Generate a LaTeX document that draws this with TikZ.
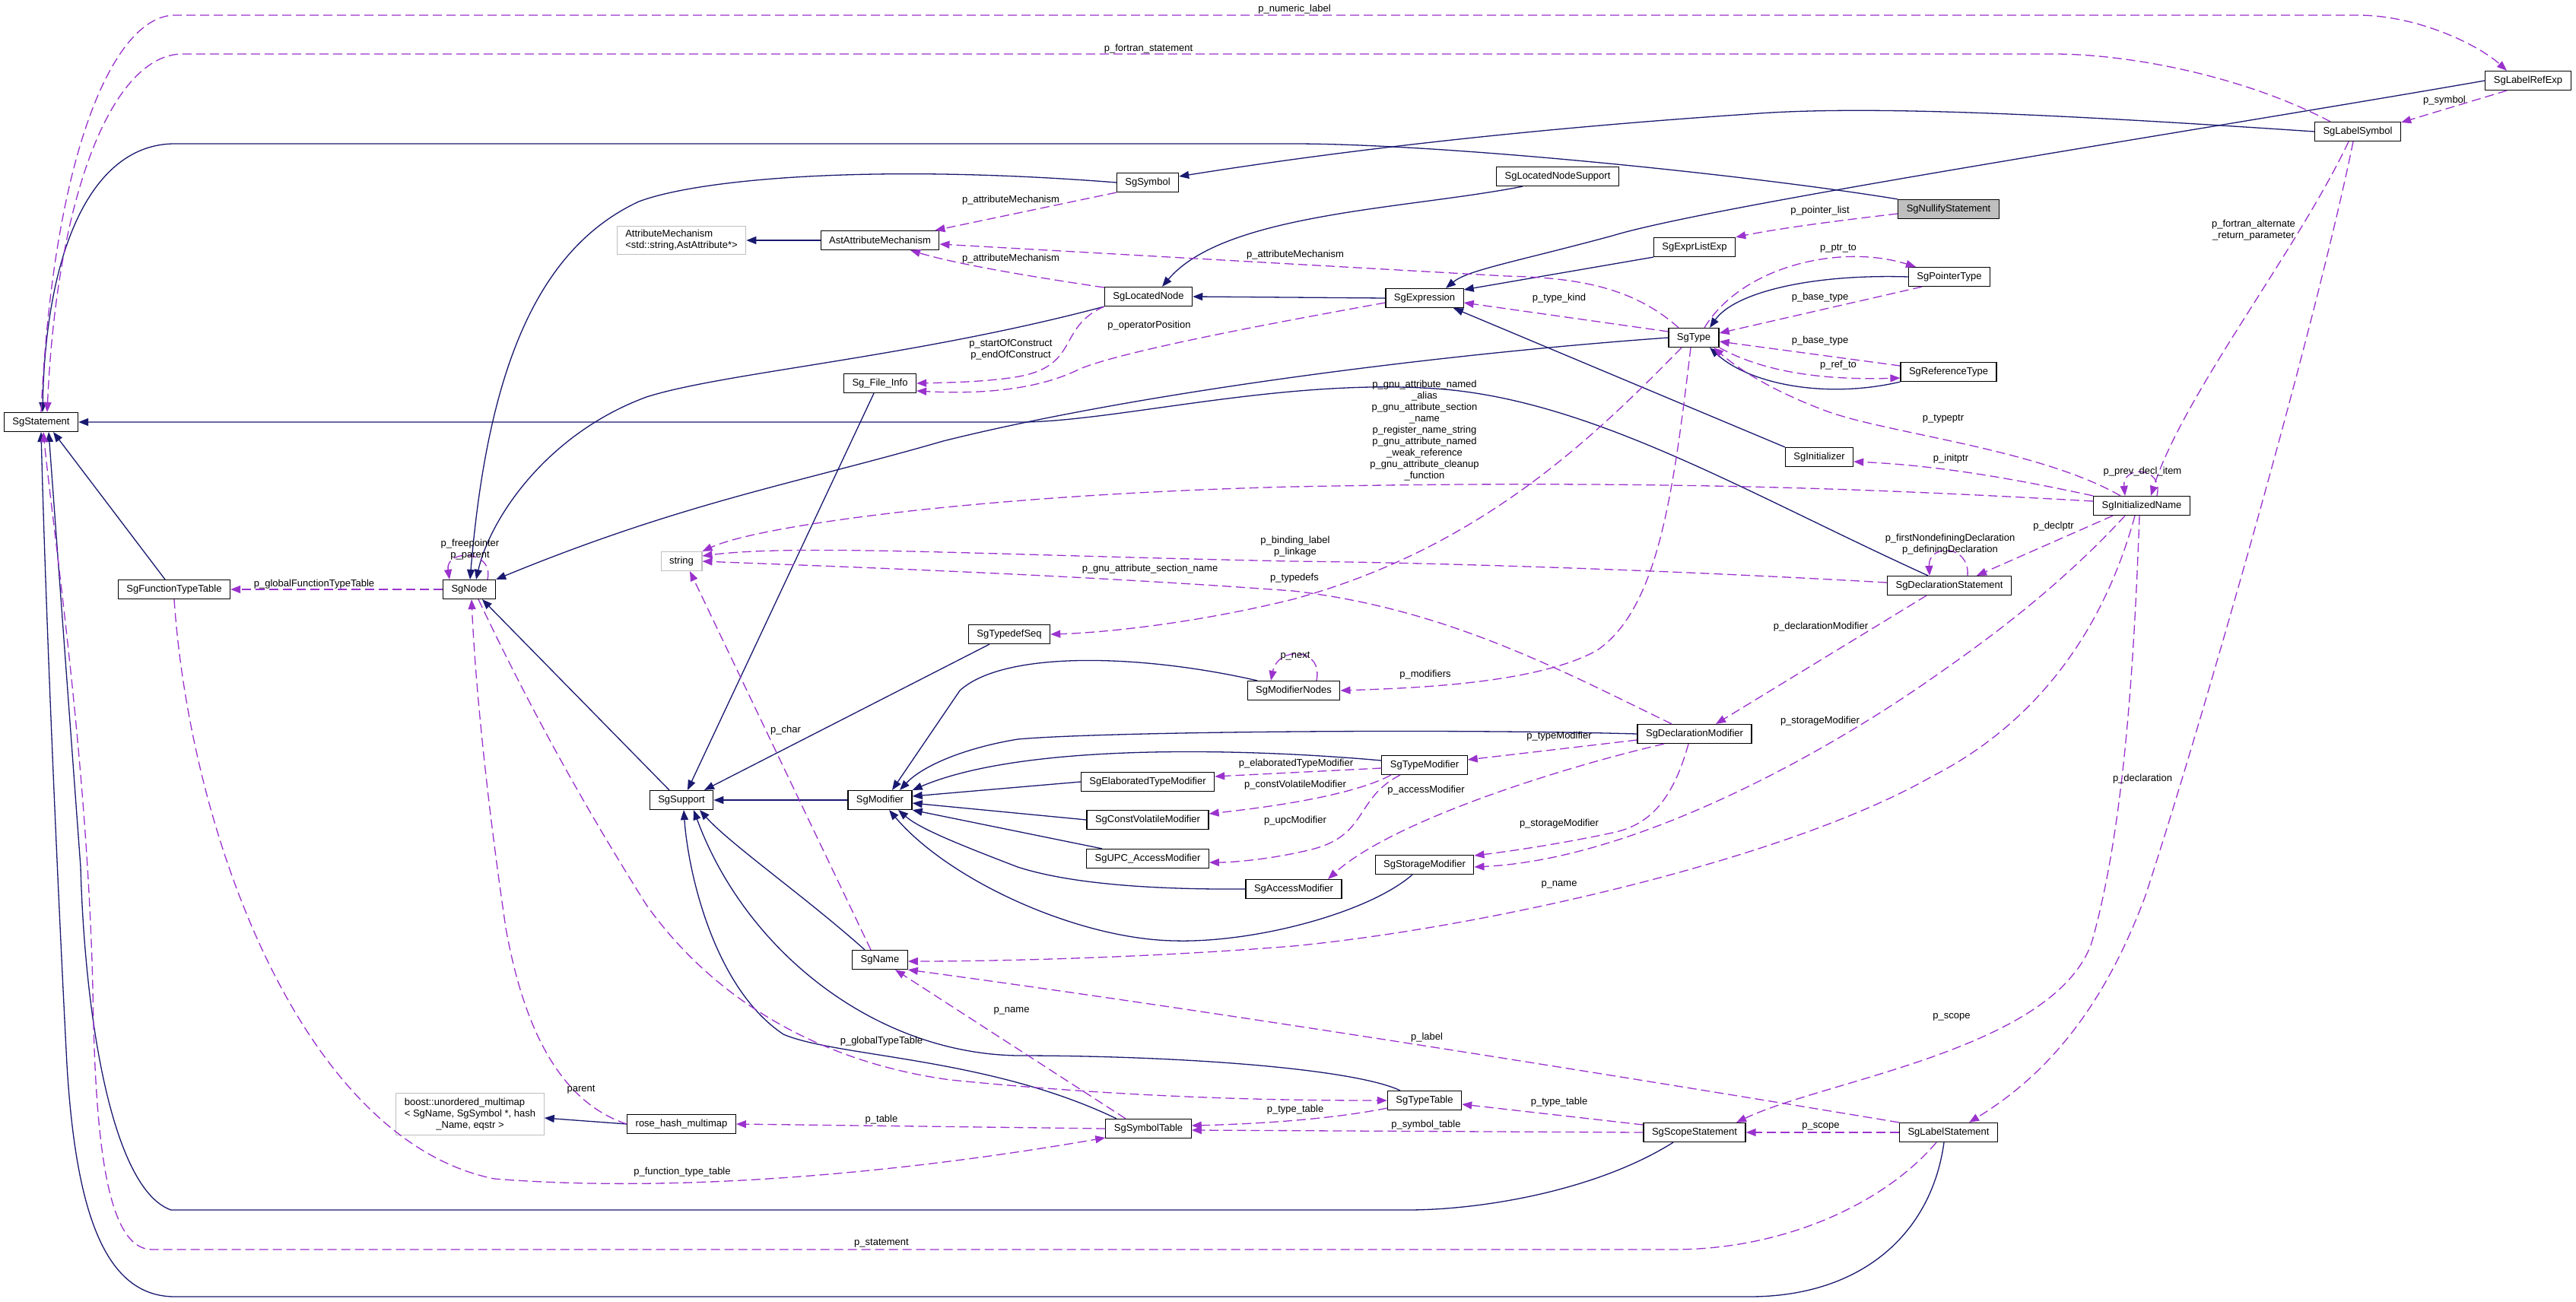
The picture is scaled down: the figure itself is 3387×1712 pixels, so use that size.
\documentclass[tikz,border=0pt]{standalone}
\usepackage{fontspec}
\setmainfont{Liberation Sans}
\usetikzlibrary{arrows.meta,calc}
\definecolor{navy}{RGB}{25,25,112}
\definecolor{orch}{RGB}{154,50,205}
\definecolor{extgray}{RGB}{191,191,191}
\begin{document}
\begin{tikzpicture}[x=0.5pt,y=-0.5pt,
  every node/.style={font=\fontsize{6.5}{7.5}\selectfont},
  cls/.style={draw=black,line width=0.6pt,fill=white,minimum height=12.5pt,inner xsep=5.5pt,inner ysep=1pt},
  ext/.style={cls,draw=extgray,inner ysep=2.5pt},
  inh/.style={draw=navy,line width=0.65pt,-{Triangle[length=6.5pt,width=5pt]}},
  use/.style={draw=orch,line width=0.65pt,dash pattern=on 6pt off 3pt,-{Triangle[length=6.5pt,width=5pt]}},
  lbl/.style={align=center,inner sep=0pt}]
\fill[white] (0,0) rectangle (3387,1712);
\useasboundingbox (0,0) rectangle (3387,1712);
% nodes
\node[cls] (stmt) at (54,555) {SgStatement};
\node[cls] (ftt) at (229,775) {SgFunctionTypeTable};
\node[cls] (sgnode) at (617,775) {SgNode};
\node[ext,align=left] (attr) at (896,316) {AttributeMechanism\\<std::string,AstAttribute*>};
\node[ext] (str) at (896,738) {string};
\node[cls] (supp) at (896,1052) {SgSupport};
\node[ext] (boost) at (618,1465) {\begin{tabular}{@{}l@{}}boost::unordered\_multimap\\< SgName, SgSymbol *, hash\\\multicolumn{1}{@{}c@{}}{\_Name, eqstr >}\end{tabular}};
\node[cls] (rose) at (896,1478) {rose\_hash\_multimap};
\node[cls] (astattr) at (1157,316) {AstAttributeMechanism};
\node[cls] (finfo) at (1157,504) {Sg\_File\_Info};
\node[cls] (mod) at (1157,1052) {SgModifier};
\node[cls] (sgname) at (1157,1262) {SgName};
\node[cls] (sym) at (1509,240) {SgSymbol};
\node[cls] (lnode) at (1510,390) {SgLocatedNode};
\node[cls] (tdseq) at (1327,834) {SgTypedefSeq};
\node[cls] (elab) at (1509,1028) {SgElaboratedTypeModifier};
\node[cls] (cvm) at (1509,1078) {SgConstVolatileModifier};
\node[cls] (upcm) at (1509,1129) {SgUPC\_AccessModifier};
\node[cls] (symtab) at (1510,1484) {SgSymbolTable};
\node[cls] (modnodes) at (1701,908) {SgModifierNodes};
\node[cls] (accm) at (1701,1169) {SgAccessModifier};
\node[cls] (lns) at (2048,232) {SgLocatedNodeSupport};
\node[cls] (expr) at (1873,392) {SgExpression};
\node[cls] (tymod) at (1873,1006) {SgTypeModifier};
\node[cls] (stor) at (1873,1137) {SgStorageModifier};
\node[cls] (tytab) at (1873,1447) {SgTypeTable};
\node[cls] (ell) at (2228,325) {SgExprListExp};
\node[cls] (sgtype) at (2227,444) {SgType};
\node[cls] (declmod) at (2228,965) {SgDeclarationModifier};
\node[cls] (scope) at (2228,1489) {SgScopeStatement};
\node[cls] (init) at (2392,601) {SgInitializer};
\node[cls,fill=extgray] (nullify) at (2562,275) {SgNullifyStatement};
\node[cls] (ptr) at (2563,364) {SgPointerType};
\node[cls] (sgref) at (2562,489) {SgReferenceType};
\node[cls] (declst) at (2563,770) {SgDeclarationStatement};
\node[cls] (lstmt) at (2562,1489) {SgLabelStatement};
\node[cls] (iname) at (2816,665) {SgInitializedName};
\node[cls] (lsym) at (3100,173) {SgLabelSymbol};
\node[cls] (lref) at (3324,106) {SgLabelRefExp};
% inheritance edges
\draw[inh] (nullify.north west) .. controls (2300,230) and (1900,189) .. (1700,189) -- (230,189) .. controls (120,189) and (60,330) .. ([xshift=1pt]stmt.north);
\draw[inh] (sym.west) .. controls (1150,215) and (920,235) .. (840,265) .. controls (700,330) and (640,500) .. ([xshift=0.5pt]sgnode.north);
\draw[inh] (lnode.south west) .. controls (1200,470) and (950,490) .. (850,522) .. controls (720,570) and (645,680) .. ([xshift=4.5pt]sgnode.north);
\draw[inh] (sgtype.west) .. controls (1900,465) and (1500,515) .. (1240,580) .. controls (1050,635) and (900,660) .. (sgnode.north east);
\draw[inh] ([xshift=-23pt]lns.south) .. controls (1850,275) and (1610,280) .. ([xshift=9pt]lnode.north);
\draw[inh] (lsym.west) .. controls (2700,150) and (2450,138) .. (2300,150) .. controls (2000,170) and (1750,200) .. ([yshift=4pt]sym.east);
\draw[inh] (lref.west) .. controls (2900,170) and (2250,270) .. (2120,310) .. controls (1990,345) and (1930,355) .. ([xshift=14pt]expr.north);
\draw[inh] (expr.west) -- (lnode.east);
\draw[inh] (ell.south west) -- ([yshift=5.5pt]expr.east);
\draw[inh] (init.north west) -- ([xshift=19pt]expr.south);
\draw[inh] (ptr.west) .. controls (2380,360) and (2280,385) .. ([xshift=10.5pt]sgtype.north);
\draw[inh] (sgref.south west) .. controls (2400,525) and (2300,505) .. ([xshift=10.5pt]sgtype.south);
\draw[inh] ([xshift=-6pt]ftt.north) -- ([xshift=8pt]stmt.south);
\draw[inh] ([xshift=-8pt]supp.north) -- ([xshift=8.5pt]sgnode.south);
\draw[inh] ([xshift=-4pt]finfo.south) -- ([xshift=4pt]supp.north);
\draw[inh] ([xshift=-21pt]symtab.north) .. controls (1300,1390) and (1100,1390) .. (1030,1360) .. controls (940,1300) and (905,1150) .. ([xshift=1.5pt]supp.south);
\draw[inh] ([xshift=-16pt]tytab.north) .. controls (1780,1405) and (1550,1388) .. (1338,1388) .. controls (1150,1385) and (980,1250) .. ([xshift=8pt]supp.south);
\draw[inh] ([xshift=-10pt]sgname.north) .. controls (1060,1180) and (960,1110) .. ([xshift=12pt]supp.south);
\draw[inh] ([xshift=-13pt]tdseq.south) -- ([xshift=15pt]supp.north);
\draw[inh] (mod.west) -- (supp.east);
\draw[inh] ([xshift=-24pt]modnodes.north) .. controls (1500,860) and (1320,855) .. (1262,908) -- ([xshift=8pt]mod.north);
\draw[inh] (declmod.west) .. controls (1900,958) and (1450,962) .. (1338,972) .. controls (1260,985) and (1210,1010) .. ([xshift=13pt]mod.north);
\draw[inh] ([yshift=3pt]tymod.west) .. controls (1650,985) and (1350,975) .. (mod.north east);
\draw[inh] (elab.west) -- ([yshift=2.5pt]mod.east);
\draw[inh] (cvm.west) -- ([yshift=-2pt]mod.east);
\draw[inh] ([xshift=-30pt]upcm.north) -- (mod.south east);
\draw[inh] (accm.west) .. controls (1500,1170) and (1400,1160) .. (1338,1140) .. controls (1260,1110) and (1210,1090) .. ([xshift=12pt]mod.south);
\draw[inh] ([xshift=-8pt]stor.south) .. controls (1800,1200) and (1650,1240) .. (1544,1237) .. controls (1420,1235) and (1250,1160) .. ([xshift=6pt]mod.south);
\draw[inh] (rose.west) -- ([yshift=-2.5pt]boost.east);
\draw[inh] ([xshift=-14pt]declst.north) .. controls (2300,650) and (2100,530) .. (1900,512) .. controls (1700,495) and (1480,552) .. (1349,555) -- (stmt.east);
\draw[inh] ([xshift=-14pt]scope.south) .. controls (2100,1565) and (1950,1591) .. (1850,1591) -- (225,1591) .. controls (150,1565) and (112,1350) .. (106,1140) -- ([xshift=5pt]stmt.south);
\draw[inh] ([xshift=-3pt]lstmt.south) .. controls (2540,1620) and (2450,1705) .. (2300,1705) -- (230,1705) .. controls (140,1705) and (100,1600) .. (88,1400) .. controls (75,1150) and (60,800) .. (stmt.south);
\draw[inh] (astattr.west) -- (attr.east);
% usage edges
\draw[use] (stmt.north) .. controls (70,200) and (150,20) .. (230,20) -- (3100,20) .. controls (3180,20) and (3260,60) .. ([xshift=-14pt]lref.north);
\draw[use] ([xshift=-18pt]lsym.north) .. controls (2950,100) and (2800,71) .. (2700,71) -- (240,71) .. controls (150,71) and (75,250) .. ([xshift=4pt]stmt.north);
\draw[use] ([xshift=-14pt]lref.south) -- ([yshift=6pt]lsym.east);
\draw[use] ([yshift=-3pt]nullify.west) .. controls (2400,292) and (2330,302) .. (ell.north east);
\draw[use] (sym.south west) -- ([xshift=-3pt]astattr.north east);
\draw[use] ([yshift=6pt]lnode.west) .. controls (1330,360) and (1250,345) .. ([xshift=20pt]astattr.south);
\draw[use] ([xshift=-10pt]sgtype.north) .. controls (2150,380) and (2080,365) .. (1980,363) -- ([yshift=-2.5pt]astattr.east);
\draw[use] (lnode.south west) .. controls (1390,430) and (1420,480) .. (1340,495) .. controls (1300,502) and (1250,503) .. (finfo.east);
\draw[use] ([yshift=-3pt]expr.west) .. controls (1700,420) and (1480,460) .. (1420,485) .. controls (1360,515) and (1280,518) .. ([yshift=-5pt]finfo.east);
\draw[use] ([yshift=4pt]sgtype.west) -- ([yshift=-3pt]expr.east);
\draw[use] ([xshift=7pt]sgtype.north) .. controls (2290,350) and (2420,320) .. ([xshift=-22pt]ptr.north);
\draw[use] ([xshift=-18pt]ptr.south) -- ([yshift=3pt]sgtype.east);
\draw[use] ([yshift=4pt]sgref.west) -- ([yshift=-2.5pt]sgtype.east);
\draw[use] (sgtype.south east) .. controls (2320,490) and (2400,500) .. ([yshift=-4pt]sgref.west);
\draw[use] ([xshift=-14pt]iname.north) .. controls (2680,590) and (2480,570) .. (2400,540) .. controls (2320,510) and (2280,480) .. ([xshift=13pt]sgtype.south);
\draw[use] ([xshift=-8pt]sgtype.south) .. controls (2100,570) and (1950,720) .. (1700,788) .. controls (1570,820) and (1450,832) .. (tdseq.east);
\draw[use] ([xshift=-2pt]sgtype.south) .. controls (2200,650) and (2180,800) .. (2100,855) .. controls (2020,900) and (1850,905) .. (modnodes.east);
\draw[use] ([xshift=15pt]modnodes.north) .. controls (1740,850) and (1680,850) .. ([xshift=-15pt]modnodes.north);
\draw[use] ([yshift=3pt]iname.west) .. controls (2500,645) and (2200,630) .. (1700,640) .. controls (1300,650) and (1000,690) .. (str.north east);
\draw[use] ([yshift=2pt]declst.west) .. controls (2200,750) and (1900,740) .. (1700,738) .. controls (1300,730) and (1050,715) .. ([yshift=3.5pt]str.east);
\draw[use] ([xshift=-15pt]declmod.north) .. controls (2050,880) and (1900,800) .. (1700,777) .. controls (1400,755) and (1100,745) .. (str.east);
\draw[use] ([xshift=-6pt]sgname.north) -- ([xshift=5.5pt]str.south);
\draw[use] (iname.north west) .. controls (2650,630) and (2550,612) .. ([yshift=-3pt]init.east);
\draw[use] ([xshift=10pt]iname.north) .. controls (2845,612) and (2790,612) .. ([xshift=-11pt]iname.north);
\draw[use] ([xshift=-6pt]lsym.south) .. controls (3020,330) and (2870,520) .. ([xshift=6pt]iname.north);
\draw[use] ([xshift=-19pt]iname.south) -- ([xshift=18pt]declst.north);
\draw[use] ([xshift=12pt]declst.north) .. controls (2590,715) and (2535,715) .. ([xshift=-13pt]declst.north);
\draw[use] ([xshift=-15pt]declst.south) -- ([xshift=14pt]declmod.north);
\draw[use] ([xshift=-4pt]declmod.south) .. controls (2200,1050) and (2170,1085) .. (2120,1095) .. controls (2050,1110) and (1980,1120) .. ([yshift=6pt]stor.east);
\draw[use] ([xshift=-11pt]iname.south) .. controls (2700,780) and (2600,850) .. (2540,892) .. controls (2400,990) and (2150,1130) .. ([yshift=-1.5pt]stor.east);
\draw[use] ([xshift=-4.5pt]iname.south) .. controls (2760,850) and (2660,960) .. (2540,1021) .. controls (2350,1130) and (1950,1220) .. (1700,1244) .. controls (1500,1260) and (1300,1264) .. ([yshift=-1pt]sgname.east);
\draw[use] ([xshift=-1.5pt]iname.south) .. controls (2805,900) and (2790,1100) .. (2750,1240) .. controls (2700,1380) and (2400,1420) .. ([xshift=27.5pt]scope.north);
\draw[use] ([xshift=-3pt]lsym.south) .. controls (3040,450) and (2880,1000) .. (2820,1180) .. controls (2760,1340) and (2680,1420) .. ([xshift=13.5pt]lstmt.north);
\draw[use] (lstmt.west) -- (scope.east);
\draw[use] (lstmt.north west) .. controls (2100,1410) and (1600,1330) .. (sgname.south east);
\draw[use] ([xshift=-8pt]lstmt.south) .. controls (2480,1580) and (2350,1643) .. (2200,1643) -- (200,1643) .. controls (140,1643) and (125,1500) .. (122,1300) .. controls (115,1000) and (70,700) .. ([xshift=1.5pt]stmt.south);
\draw[use] (scope.west) -- ([yshift=-1pt]symtab.east);
\draw[use] ([yshift=5pt]scope.west) -- ([yshift=-2.5pt]tytab.east);
\draw[use] ([yshift=-5pt]tytab.west) .. controls (1750,1472) and (1650,1478) .. ([yshift=2pt]symtab.east);
\draw[use] ([xshift=6pt]sgnode.south) .. controls (720,980) and (800,1110) .. (850,1190) .. controls (950,1330) and (1100,1400) .. (1250,1420) .. controls (1500,1445) and (1700,1447) .. (tytab.west);
\draw[use] ([xshift=-15pt]symtab.north) -- ([xshift=10pt]sgname.south);
\draw[use] (symtab.west) -- (rose.east);
\draw[use] (ftt.south) .. controls (250,1100) and (400,1500) .. (650,1550) .. controls (900,1570) and (1200,1540) .. ([yshift=-6pt]symtab.west);
\draw[use] (rose.west) .. controls (740,1450) and (690,1360) .. (665,1220) .. controls (640,1050) and (625,900) .. ([xshift=1.5pt]sgnode.south);
\draw[use] (sgnode.west) -- (ftt.east);
\draw[use] ([xshift=12pt]sgnode.north) .. controls (650,722) and (585,722) .. ([xshift=-13pt]sgnode.north);
\draw[use] ([yshift=-4pt]declmod.west) -- ([yshift=3.5pt]tymod.east);
\draw[use] ([xshift=-20pt]declmod.south) .. controls (2050,1010) and (1830,1080) .. ([xshift=22.5pt]accm.north);
\draw[use] ([yshift=-2pt]tymod.west) -- ([yshift=3.5pt]elab.east);
\draw[use] ([xshift=-22pt]tymod.south) .. controls (1780,1045) and (1680,1060) .. ([yshift=4pt]cvm.east);
\draw[use] ([xshift=-16pt]tymod.south) .. controls (1780,1050) and (1800,1100) .. (1720,1118) .. controls (1670,1130) and (1620,1134) .. ([yshift=-2.5pt]upcm.east);
% labels
\node[lbl] (l1) at (1702,12) {p\_numeric\_label};
\node[lbl] (l2) at (1510,64) {p\_fortran\_statement};
\node[lbl] (l3) at (1329,263) {p\_attributeMechanism};
\node[lbl] (l4) at (1329,340) {p\_attributeMechanism};
\node[lbl] (l5) at (1703,335) {p\_attributeMechanism};
\node[lbl] (l6) at (1329,460) {p\_startOfConstruct\\p\_endOfConstruct};
\node[lbl] (l7) at (1511,428) {p\_operatorPosition};
\node[lbl] (l8) at (2393,277) {p\_pointer\_list};
\node[lbl] (l9) at (2417,327) {p\_ptr\_to};
\node[lbl] (l10) at (2050,392) {p\_type\_kind};
\node[lbl] (l11) at (2393,391) {p\_base\_type};
\node[lbl] (l12) at (2393,448) {p\_base\_type};
\node[lbl] (l13) at (2417,480) {p\_ref\_to};
\node[lbl] (l14) at (1873,566) {p\_gnu\_attribute\_named\\\_alias\\p\_gnu\_attribute\_section\\\_name\\p\_register\_name\_string\\p\_gnu\_attribute\_named\\\_weak\_reference\\p\_gnu\_attribute\_cleanup\\\_function};
\node[lbl] (l15) at (3214,132) {p\_symbol};
\node[lbl] (l16) at (2963,303) {p\_fortran\_alternate\\\_return\_parameter};
\node[lbl] (l17) at (2555,551) {p\_typeptr};
\node[lbl] (l18) at (618,723) {p\_freepointer\\p\_parent};
\node[lbl] (l19) at (413,768) {p\_globalFunctionTypeTable};
\node[lbl] (l20) at (1703,719) {p\_binding\_label\\p\_linkage};
\node[lbl] (l21) at (1512,748) {p\_gnu\_attribute\_section\_name};
\node[lbl] (l22) at (1702,760) {p\_typedefs};
\node[lbl] (l23) at (1703,863) {p\_next};
\node[lbl] (l24) at (1033,960) {p\_char};
\node[lbl] (l25) at (1704,1004) {p\_elaboratedTypeModifier};
\node[lbl] (l26) at (1703,1032) {p\_constVolatileModifier};
\node[lbl] (l27) at (1703,1079) {p\_upcModifier};
\node[lbl] (l28) at (2565,603) {p\_initptr};
\node[lbl] (l29) at (2564,716) {p\_firstNondefiningDeclaration\\p\_definingDeclaration};
\node[lbl] (l30) at (2394,824) {p\_declarationModifier};
\node[lbl] (l31) at (2393,948) {p\_storageModifier};
\node[lbl] (l32) at (2050,1083) {p\_storageModifier};
\node[lbl] (l33) at (1874,887) {p\_modifiers};
\node[lbl] (l34) at (2050,968) {p\_typeModifier};
\node[lbl] (l35) at (1875,1039) {p\_accessModifier};
\node[lbl] (l36) at (2817,620) {p\_prev\_decl\_item};
\node[lbl] (l37) at (2700,692) {p\_declptr};
\node[lbl] (l38) at (2817,1024) {p\_declaration};
\node[lbl] (l39) at (764,1433) {parent};
\node[lbl] (l40) at (897,1541) {p\_function\_type\_table};
\node[lbl] (l41) at (1330,1329) {p\_name};
\node[lbl] (l42) at (2050,1163) {p\_name};
\node[lbl] (l43) at (1159,1369) {p\_globalTypeTable};
\node[lbl] (l44) at (1159,1472) {p\_table};
\node[lbl] (l45) at (1159,1635) {p\_statement};
\node[lbl] (l46) at (1703,1459) {p\_type\_table};
\node[lbl] (l47) at (2050,1449) {p\_type\_table};
\node[lbl] (l48) at (1876,1364) {p\_label};
\node[lbl] (l49) at (1875,1479) {p\_symbol\_table};
\node[lbl] (l50) at (2394,1481) {p\_scope};
\node[lbl] (l51) at (2566,1337) {p\_scope};
\end{tikzpicture}
\end{document}
